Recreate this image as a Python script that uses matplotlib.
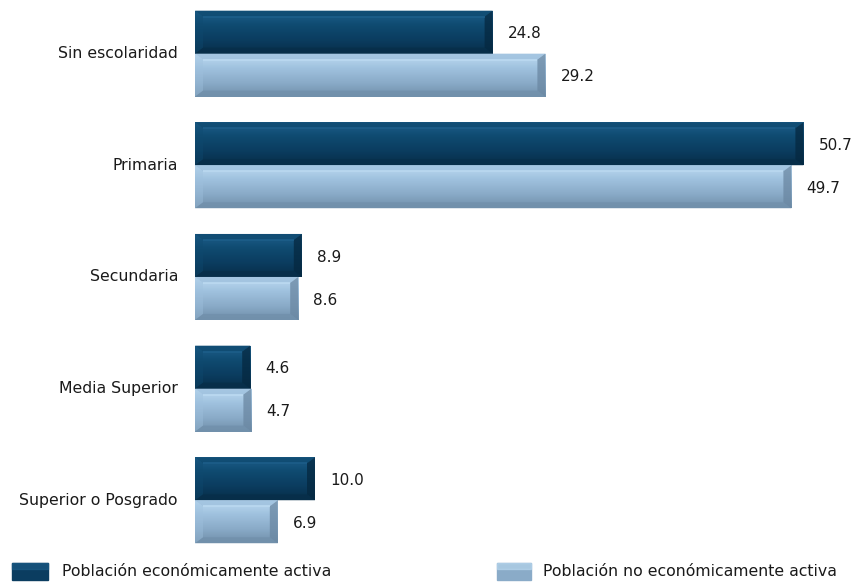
import numpy as np
import matplotlib.pyplot as plt
from matplotlib.patches import Polygon, Rectangle
from matplotlib.colors import LinearSegmentedColormap

plt.rcParams['font.family'] = ['DejaVu Sans']

categorias = ['Sin escolaridad', 'Primaria', 'Secundaria', 'Media Superior', 'Superior o Posgrado']
activa = [24.8, 50.7, 8.9, 4.6, 10.0]
no_activa = [29.2, 49.7, 8.6, 4.7, 6.9]
series_labels = ['Población económicamente activa', 'Población no económicamente activa']

# vertical gradients (top -> bottom) and the right-hand shade of each series
dark_grad = ['#1d5e8a', '#0f4a70', '#0b3d60', '#072e49']
light_grad = ['#bcdaf1', '#9fc1de', '#8aabc8', '#7190ab']
dark_side = '#052840'
light_side = '#6a87a2'

W, H = 853, 583
fig = plt.figure(figsize=(W / 100, H / 100), dpi=100)
px_per_unit = 12.0
ax = fig.add_axes([195 / W, 1 - 555 / H, (W - 195) / W, 555 / H])
xmax = (W - 195) / px_per_unit

bar_h = 0.385
y = np.arange(len(categorias))
bx = 8 / px_per_unit       # bevel width in data units
by = 6 / 111.6             # bevel height in data units


def shade(bars, grad, side):
    cmap = LinearSegmentedColormap.from_list('g', grad)
    g = np.linspace(0, 1, 64).reshape(-1, 1)
    for r in bars:
        x0, y0 = r.get_x(), r.get_y()
        x1, y1 = x0 + r.get_width(), y0 + r.get_height()
        im = ax.imshow(g, cmap=cmap, extent=[x0, x1, y1, y0], aspect='auto',
                       interpolation='bilinear', zorder=2)
        im.set_clip_path(r)
        # bevel edges (y axis inverted: y0 is the upper edge on screen)
        ax.add_patch(Polygon([(x0, y0), (x1, y0), (x1 - bx, y0 + by), (x0 + bx, y0 + by)],
                             closed=True, color=grad[1], alpha=0.8, lw=0, zorder=3))
        ax.plot([x0 + bx, x1 - bx], [y0 + by, y0 + by], color=grad[0], lw=1.5,
                alpha=0.8, zorder=4, solid_capstyle='butt')
        ax.add_patch(Polygon([(x0, y1), (x1, y1), (x1 - bx, y1 - by), (x0 + bx, y1 - by)],
                             closed=True, color=grad[-1], alpha=0.8, lw=0, zorder=3))
        ax.add_patch(Polygon([(x1, y0), (x1, y1), (x1 - bx, y1 - by), (x1 - bx, y0 + by)],
                             closed=True, color=side, alpha=0.75, lw=0, zorder=3))
        ax.add_patch(Polygon([(x0, y0), (x0, y1), (x0 + bx, y1 - by), (x0 + bx, y0 + by)],
                             closed=True, color=grad[1], alpha=0.4, lw=0, zorder=3))


b1 = ax.barh(y - bar_h / 2, activa, height=bar_h, color=dark_grad[2], zorder=1)
b2 = ax.barh(y + bar_h / 2, no_activa, height=bar_h, color=light_grad[2], zorder=1)
shade(b1, dark_grad, dark_side)
shade(b2, light_grad, light_side)

ax.set_xlim(0, xmax)
ax.set_ylim(4.49, -0.48)
ax.axis('off')

off = 15 / px_per_unit
dy = 0.015
for i in range(len(categorias)):
    ax.text(activa[i] + off, y[i] - bar_h / 2 + dy, f'{activa[i]:.1f}', ha='left', va='center',
            fontsize=11, color='#1a1a1a')
    ax.text(no_activa[i] + off, y[i] + bar_h / 2 + dy, f'{no_activa[i]:.1f}', ha='left', va='center',
            fontsize=11, color='#1a1a1a')
    ax.text(-17 / px_per_unit, y[i], categorias[i], ha='right', va='center',
            fontsize=11.3, color='#1a1a1a')

# legend along the bottom edge
for (sx, sw, tx), grad, lab in zip([(12, 36, 62), (497, 34, 543)], [dark_grad, light_grad], series_labels):
    fig.patches.append(Rectangle((sx / W, 1 - 580 / H), sw / W, 17 / H, color=grad[2],
                                 transform=fig.transFigure, figure=fig))
    fig.patches.append(Rectangle((sx / W, 1 - 569 / H), sw / W, 6 / H, color=grad[0], alpha=0.6,
                                 transform=fig.transFigure, figure=fig))
    fig.text(tx / W, 1 - 572 / H, lab, ha='left', va='center', fontsize=11.3, color='#1a1a1a')

fig.savefig('out.png', dpi=100, facecolor='white')
